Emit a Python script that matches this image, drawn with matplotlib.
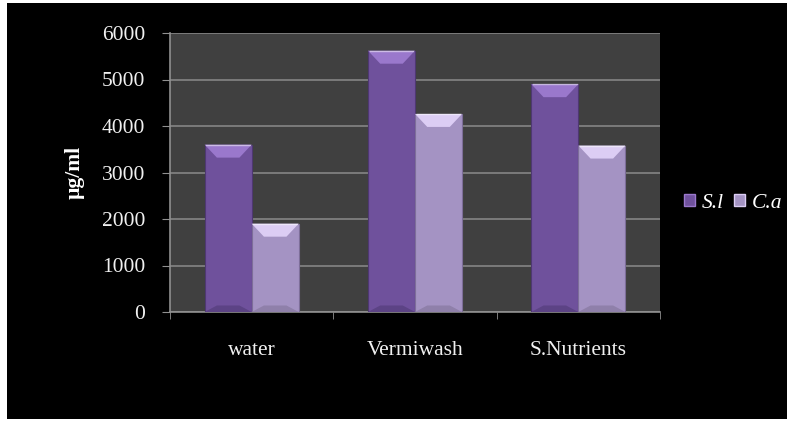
import matplotlib.pyplot as plt
from matplotlib.patches import Polygon, Rectangle, Patch

categories = ['water', 'Vermiwash', 'S.Nutrients']
sl_values = [3600, 5620, 4900]
ca_values = [1900, 4260, 3580]
series_names = ['S.l', 'C.a']
y_ticks = [0, 1000, 2000, 3000, 4000, 5000, 6000]

plt.rcParams['font.family'] = ['Liberation Serif', 'DejaVu Serif']

fig = plt.figure(figsize=(7.87, 4.22), dpi=100, facecolor='white')
# black chart area, thin white margin like the screenshot
fig.patches.append(Rectangle((7 / 787, 3 / 422), 1, 416 / 422, transform=fig.transFigure,
                             facecolor='black', edgecolor='none', zorder=-10))

ax = fig.add_axes([170 / 787, 1 - 312 / 422, 490 / 787, 279 / 422])
ax.set_facecolor('#404040')

w = 0.288
bx, by = 0.075, 280   # bevel size
styles = [
    dict(body='#6f519c', cap='#9a78cc', edge='#4e3872', low='#5c4385'),
    dict(body='#a493c3', cap='#dccdf4', edge='#7d6e99', low='#8f80aa'),
]

for si, vals in enumerate([sl_values, ca_values]):
    st = styles[si]
    xs = [i - w / 2 + si * w for i in range(len(categories))]
    ax.bar(xs, vals, width=w, color=st['body'], edgecolor=st['edge'], linewidth=0.8, zorder=3)
    for x, h in zip(xs, vals):
        l, r = x - w / 2, x + w / 2
        ax.add_patch(Polygon([(l, h), (r, h), (r - bx, h - by), (l + bx, h - by)],
                             closed=True, facecolor=st['cap'], edgecolor='none', zorder=4))
        ax.add_patch(Polygon([(l, 0), (r, 0), (r - bx, by * 0.5), (l + bx, by * 0.5)],
                             closed=True, facecolor=st['low'], edgecolor='none', zorder=4))
        ax.plot([l + 0.01, r - 0.01], [h, h], color='white', alpha=0.5, lw=1, zorder=5)

ax.set_xlim(-0.5, len(categories) - 0.5)
ax.set_ylim(0, 6000)
ax.set_yticks(y_ticks)
ax.yaxis.grid(True, color='#858585', lw=1.2, zorder=1)
ax.set_axisbelow(True)

ax.set_xticks(range(len(categories)))
ax.set_xticklabels(categories)
ax.set_xticks([i - 0.5 for i in range(len(categories) + 1)], minor=True)
ax.tick_params(axis='x', which='major', length=0, pad=21, labelsize=15.5, labelcolor='#f0f0f0')
ax.tick_params(axis='x', which='minor', length=5, color='#909090', direction='out')
ax.tick_params(axis='y', length=6, color='#909090', direction='out', labelsize=15.5,
               labelcolor='#f0f0f0', pad=12)

for s in ['top', 'right']:
    ax.spines[s].set_visible(False)
for s in ['left', 'bottom']:
    ax.spines[s].set_color('#909090')
    ax.spines[s].set_linewidth(1.2)

ax.set_ylabel('µg/ml', color='white', fontsize=15.5, fontweight='bold', labelpad=12)

handles = [Patch(facecolor=styles[0]['body'], edgecolor=styles[0]['cap']),
           Patch(facecolor=styles[1]['body'], edgecolor=styles[1]['cap'])]
leg = fig.legend(handles, series_names, loc='center', bbox_to_anchor=(733 / 787, 1 - 203 / 422),
                 ncol=2, frameon=False, handlelength=0.5, handleheight=0.5, handletextpad=0.3,
                 columnspacing=0.5, prop={'style': 'italic', 'size': 15.5})
for t in leg.get_texts():
    t.set_color('white')

fig.savefig('out.png', dpi=100, facecolor='white')
